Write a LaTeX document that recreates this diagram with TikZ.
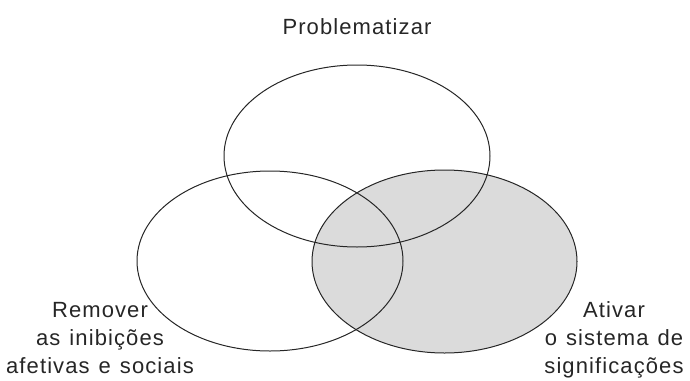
\documentclass[tikz,border=0pt]{standalone}
\usepackage{fontspec}
\setmainfont{Liberation Sans}[LetterSpace=5,WordSpace=1.25]
\begin{document}
\begin{tikzpicture}[x=1pt,y=-1pt,
  ring/.style={draw=black!85,line width=1pt},
  lbl/.style={font=\fontsize{22}{28}\selectfont,align=center,inner sep=0pt,text=black!85}]
\useasboundingbox (0,0) rectangle (690,380);
\fill[black!14] (444.5,261.5) ellipse [x radius=132.5, y radius=91.5];
\draw[ring] (357,156) ellipse [x radius=133, y radius=91];
\draw[ring] (270,261) ellipse [x radius=133, y radius=90];
\draw[ring] (444.5,261.5) ellipse [x radius=132.5, y radius=91.5];
\node[lbl,anchor=base] (p) at (357,34) {Problematizar};
\node[lbl,anchor=north] (r) at (100,302) {Remover\\as inibições\\afetivas e sociais};
\node[lbl,anchor=north] (a) at (614,301) {Ativar\\o sistema de\\significações};
\end{tikzpicture}
\end{document}
